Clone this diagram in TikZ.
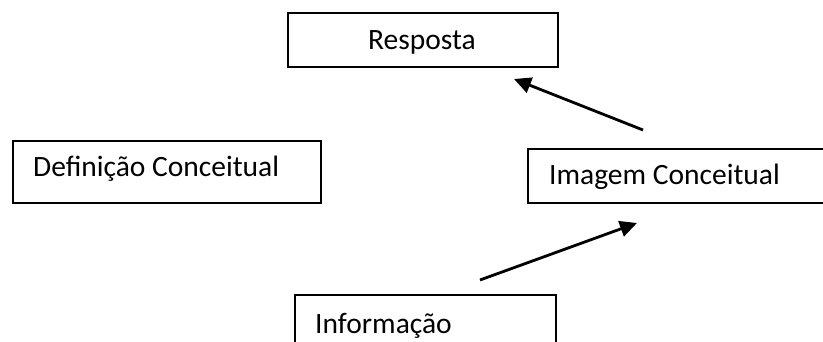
\documentclass[tikz,border=0pt]{standalone}
\usepackage{fontspec}
\setmainfont{Carlito}
\usetikzlibrary{arrows.meta}
\begin{document}
\begin{tikzpicture}[x=1pt,y=-1pt,
  box/.style={draw=black,line width=1.6pt,rectangle,inner sep=0pt,anchor=north west},
  label text/.style={font=\fontsize{29.5}{34}\selectfont,inner sep=0pt},
  link/.style={line width=2.8pt,-{Triangle[length=17pt,width=16pt]}}]
\useasboundingbox (0,0) rectangle (823,342);
\clip (0,0) rectangle (823,342);
% boxes
\node[box,minimum width=270pt,minimum height=54pt] (resp) at (287,12) {};
\node[box,minimum width=308pt,minimum height=62pt] (def) at (12,140) {};
\node[box,minimum width=300pt,minimum height=54pt] (img) at (527,148) {};
\node[box,minimum width=261pt,minimum height=70pt] (info) at (294,294) {};
% texts
\node[label text,anchor=base] (tresp) at (422,50) {Resposta};
\node[label text,anchor=base west] (tdef) at (33,177) {Definição Conceitual};
\node[label text,anchor=base west] (timg) at (549,185) {Imagem Conceitual};
\node[label text,anchor=base west] (tinfo) at (315,333) {Informação};
% connectors
\coordinate (a1s) at (643,130);
\coordinate (a1e) at (514,79);
\coordinate (a2s) at (480,280);
\coordinate (a2e) at (637,223);
\draw[link] (a1s) -- (a1e);
\draw[link] (a2s) -- (a2e);
\end{tikzpicture}
\end{document}
